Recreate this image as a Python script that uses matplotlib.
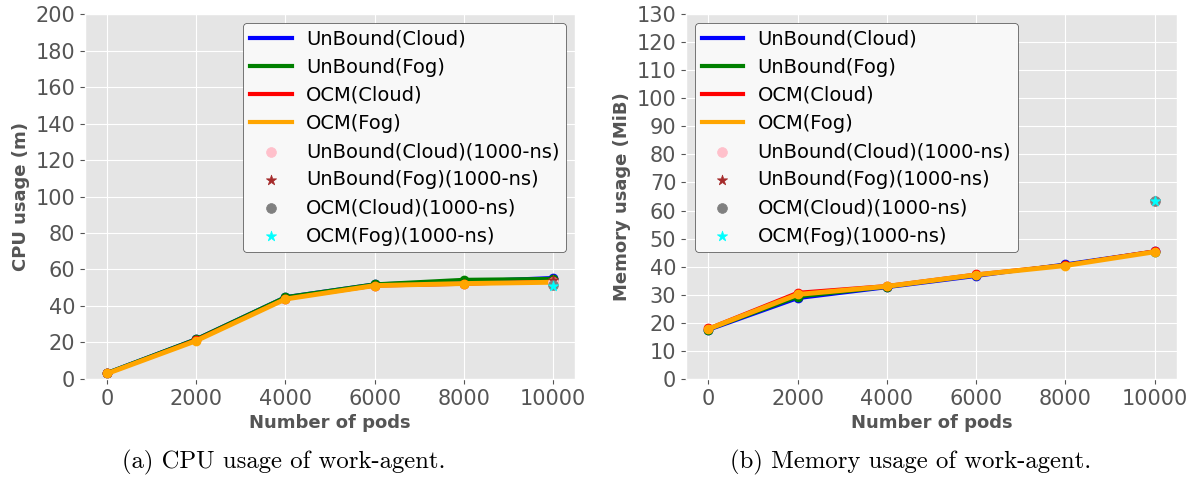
import matplotlib
matplotlib.use('Agg')
from matplotlib import pyplot as plt

plt.style.use('ggplot')

pods = [0, 2000, 4000, 6000, 8000, 10000]
ns_pods = [10000]

cpu_unbound_cloud = [3.5, 22, 45, 52, 53.5, 55.5]
cpu_unbound_fog = [3.5, 22, 45, 52, 54.5, 55]
cpu_ocm_cloud = [3, 21.5, 44, 51, 52, 53.5]
cpu_ocm_fog = [3, 21, 43.8, 51.2, 52.3, 53]
cpu_ns = {'UnBound(Cloud)(1000-ns)': [53], 'UnBound(Fog)(1000-ns)': [54],
          'OCM(Cloud)(1000-ns)': [51.5], 'OCM(Fog)(1000-ns)': [51]}

mem_unbound_cloud = [17.4, 28.7, 32.6, 36.6, 40.9, 45.5]
mem_unbound_fog = [17.6, 29.2, 32.8, 36.9, 40.7, 45.4]
mem_ocm_cloud = [18, 30.8, 33.2, 37.3, 40.6, 45.6]
mem_ocm_fog = [17.8, 30.1, 33, 37.1, 40.4, 45.3]
mem_ns = {'UnBound(Cloud)(1000-ns)': [63.4], 'UnBound(Fog)(1000-ns)': [63.4],
          'OCM(Cloud)(1000-ns)': [63.5], 'OCM(Fog)(1000-ns)': [63.5]}

line_names = ['UnBound(Cloud)', 'UnBound(Fog)', 'OCM(Cloud)', 'OCM(Fog)']
line_colors = ['blue', 'green', 'red', 'orange']
ns_styles = [('pink', 'o'), ('brown', '*'), ('gray', 'o'), ('cyan', '*')]

fig = plt.figure(figsize=(11.96, 4.84), dpi=100)
ax1 = fig.add_axes([0.0711, 0.217, 0.4097, 0.754])
ax2 = fig.add_axes([0.5736, 0.217, 0.4105, 0.754])


def draw(ax, series, ns, ylim, ystep, ylabel, loc):
    for ys, name, c in zip(series, line_names, line_colors):
        ax.plot(pods, ys, color=c, lw=3.5 if c == 'orange' else 2.5,
                marker='o', ms=6, label=name)
    for (name, vals), (c, m) in zip(ns.items(), ns_styles):
        ax.scatter(ns_pods, vals, color=c, marker=m, s=60 if m == '*' else 50,
                   zorder=3, label=name)
    ax.set_ylim(*ylim)
    ax.set_yticks(range(ylim[0], ylim[1] + 1, ystep))
    ax.set_xticks(pods)
    ax.tick_params(labelsize=15, colors='#555555')
    ax.set_xlabel('Number of pods', fontsize=13, fontweight='bold', color='#555555')
    ax.set_ylabel(ylabel, fontsize=13, fontweight='bold', color='#555555')
    leg = ax.legend(loc=loc, fontsize=14, facecolor='#f8f8f8', framealpha=1,
                    edgecolor='#444444', borderpad=0.35, labelspacing=0.47,
                    handlelength=2.15, handletextpad=0.72, borderaxespad=0.45)
    for h in leg.legend_handles[:4]:
        h.set_linewidth(3)
        h.set_marker('')


draw(ax1, [cpu_unbound_cloud, cpu_unbound_fog, cpu_ocm_cloud, cpu_ocm_fog],
     cpu_ns, (0, 200), 20, 'CPU usage (m)', 'upper right')
draw(ax2, [mem_unbound_cloud, mem_unbound_fog, mem_ocm_cloud, mem_ocm_fog],
     mem_ns, (0, 130), 10, 'Memory usage (MiB)', 'upper left')

fig.text(0.237, 0.045, '(a) CPU usage of work-agent.', ha='center', va='center',
         fontsize=17.8, family=['cmr10', 'DejaVu Serif'])
fig.text(0.761, 0.045, '(b) Memory usage of work-agent.', ha='center', va='center',
         fontsize=17.8, family=['cmr10', 'DejaVu Serif'])

fig.savefig('out.png', dpi=100)
